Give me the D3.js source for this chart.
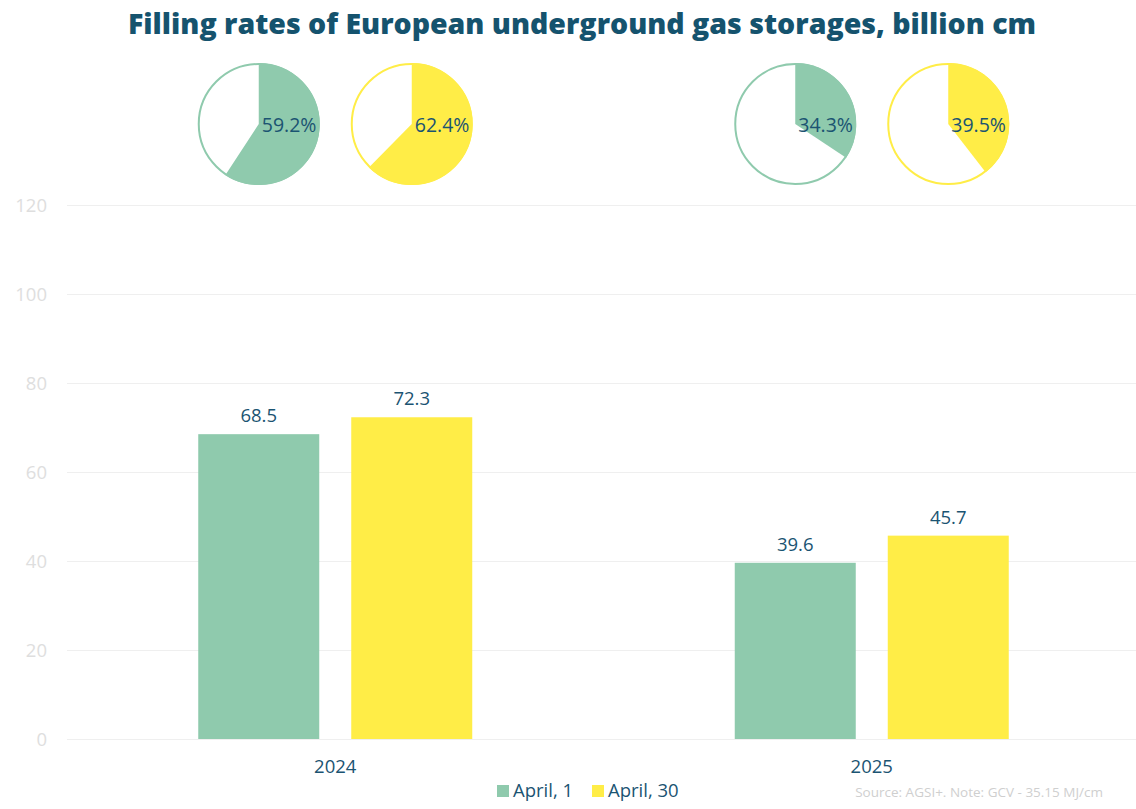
<!DOCTYPE html>
<meta charset="utf-8">
<script src="https://cdn.jsdelivr.net/npm/d3@7"></script>
<style>
  body { margin: 0; background: #fff; }
  text { font-family: "Open Sans", Lato, sans-serif; }
</style>
<body>
<script>

// data
var years = ["2024", "2025"];
var seriesNames = ["April, 1", "April, 30"];
var volumes = [[68.5, 72.3], [39.6, 45.7]];     // billion cm, per year: [April 1, April 30]
var fillRates = [[59.2, 62.4], [34.3, 39.5]];   // % filled
var yTicks = [0, 20, 40, 60, 80, 100, 120];

var colors = ["#8fcaad", "#ffed47"];
var textColor = "#1b5472";

var width = 1136, height = 809;
var margin = {top: 205, right: -4, bottom: 70, left: 67};

var svg = d3.select("body").append("svg")
    .attr("width", width)
    .attr("height", height);

var x = d3.scaleBand().domain(years).range([margin.left, width - margin.right]);
// two bars of ~121px with a ~32px gap, centred in each band
var groupW = 274;
var xInner = d3.scaleBand().domain(seriesNames)
    .range([(x.bandwidth() - groupW) / 2, (x.bandwidth() + groupW) / 2])
    .paddingInner(32 / 153);
var y = d3.scaleLinear().domain([0, 120]).range([height - margin.bottom, margin.top]);

// title
svg.append("text")
    .attr("x", width / 2 + 14).attr("y", 34)
    .attr("text-anchor", "middle")
    .style("font-size", "28.5px").style("font-weight", "800")
    .style("fill", "#15536e")
    .text("Filling rates of European underground gas storages, billion cm");

// grid + y labels
svg.append("g").selectAll("line").data(yTicks).enter().append("line")
    .attr("x1", margin.left).attr("x2", width)
    .attr("y1", function(d) { return y(d) + 0.5; })
    .attr("y2", function(d) { return y(d) + 0.5; })
    .style("stroke", "#efefef");

svg.append("g").selectAll("text").data(yTicks).enter().append("text")
    .attr("x", 47).attr("y", function(d) { return y(d) + 7; })
    .attr("text-anchor", "end")
    .style("font-size", "18.5px").style("fill", "#dedede")
    .text(String);

// bars
var groups = svg.append("g").selectAll("g").data(years).enter().append("g")
    .attr("transform", function(d) { return "translate(" + x(d) + ",0)"; });

groups.selectAll("rect").data(function(d, i) { return volumes[i]; }).enter().append("rect")
    .attr("x", function(d, j) { return xInner(seriesNames[j]); })
    .attr("y", function(d) { return y(d); })
    .attr("width", xInner.bandwidth())
    .attr("height", function(d) { return y(0) - y(d); })
    .style("fill", function(d, j) { return colors[j]; });

groups.selectAll("text.val").data(function(d, i) { return volumes[i]; }).enter().append("text")
    .attr("class", "val")
    .attr("x", function(d, j) { return xInner(seriesNames[j]) + xInner.bandwidth() / 2; })
    .attr("y", function(d) { return y(d) - 12; })
    .attr("text-anchor", "middle")
    .style("font-size", "18.5px").style("fill", textColor)
    .text(function(d) { return d.toFixed(1); });

// year labels
svg.append("g").selectAll("text").data(years).enter().append("text")
    .attr("x", function(d) { return x(d) + x.bandwidth() / 2; })
    .attr("y", 773)
    .attr("text-anchor", "middle")
    .style("font-size", "18.5px").style("fill", textColor)
    .text(String);

// pies above each bar
var r = 61;
var arc = d3.arc().innerRadius(0).outerRadius(r);
groups.each(function(d, i) {
  var g = d3.select(this);
  fillRates[i].forEach(function(p, j) {
    var cx = xInner(seriesNames[j]) + xInner.bandwidth() / 2;
    var pg = g.append("g").attr("transform", "translate(" + cx + ",124)");
    pg.append("circle").attr("r", r - 1)
        .style("fill", "#fff").style("stroke", colors[j]).style("stroke-width", 2);
    pg.append("path")
        .attr("d", arc({startAngle: 0, endAngle: 2 * Math.PI * p / 100}))
        .style("fill", colors[j]);
    pg.append("text")
        .attr("x", 3).attr("y", 8)
        .style("font-size", "19.5px").style("fill", textColor)
        .text(p.toFixed(1) + "%");
  });
});

// legend
var legendX = [497, 592];
var legend = svg.append("g").selectAll("g").data(seriesNames).enter().append("g")
    .attr("transform", function(d, i) { return "translate(" + legendX[i] + ",785)"; });
legend.append("rect").attr("width", 12).attr("height", 12)
    .style("fill", function(d, i) { return colors[i]; });
legend.append("text").attr("x", 16).attr("y", 12)
    .style("font-size", "18.5px").style("fill", textColor)
    .text(String);

// source note
svg.append("text")
    .attr("x", 1103).attr("y", 797)
    .attr("text-anchor", "end")
    .style("font-size", "13.5px").style("fill", "#cfcfcf")
    .text("Source: AGSI+. Note: GCV - 35.15 MJ/cm");

</script>
</body>
